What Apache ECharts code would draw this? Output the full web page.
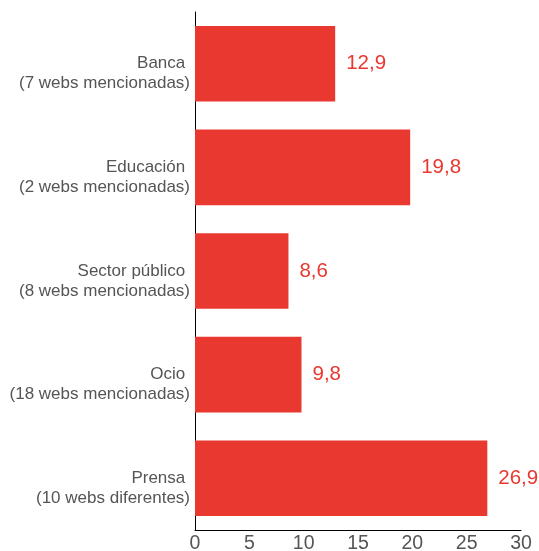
<!DOCTYPE html>
<html><head><meta charset="utf-8">
<script src="https://cdn.jsdelivr.net/npm/echarts@6/dist/echarts.min.js"></script>
<style>html,body{margin:0;padding:0;background:#fff}#c{width:539px;height:551px}</style>
</head><body><div id="c"></div>
<script>
var categories = ["Banca \n(7 webs mencionadas)", "Educación \n(2 webs mencionadas)", "Sector público \n(8 webs mencionadas)", "Ocio \n(18 webs mencionadas)", "Prensa \n(10 webs diferentes)"];
var values = [12.9, 19.8, 8.6, 9.8, 26.9];
var chart = echarts.init(document.getElementById('c'));
chart.setOption({
  animation: false,
  grid: {left: 195, right: 18, top: 12, bottom: 21, containLabel: false, outerBoundsMode: 'none'},
  xAxis: {
    type: 'value', min: 0, max: 30, interval: 5,
    axisLine: {show: true, lineStyle: {color: '#000', width: 1}},
    axisTick: {show: false},
    splitLine: {show: false},
    axisLabel: {color: '#555', fontSize: 19.5, fontFamily: 'Liberation Sans', margin: 4}
  },
  yAxis: {
    type: 'category', inverse: true, data: categories,
    axisLine: {show: true, lineStyle: {color: '#000', width: 1}},
    axisTick: {show: false},
    axisLabel: {color: '#555', fontSize: 17, lineHeight: 20, fontFamily: 'Liberation Sans', margin: 5, align: 'right',
      formatter: function(v){ return '\n' + v; }}
  },
  series: [{
    type: 'bar', data: values, barCategoryGap: '27%',
    itemStyle: {color: '#E8382F'},
    label: {show: true, position: 'right', distance: 11, color: '#E8382F', fontSize: 20.5, fontFamily: 'Liberation Sans',
      formatter: function(p){ return String(p.value).replace('.', ','); }}
  }]
});
</script></body></html>
